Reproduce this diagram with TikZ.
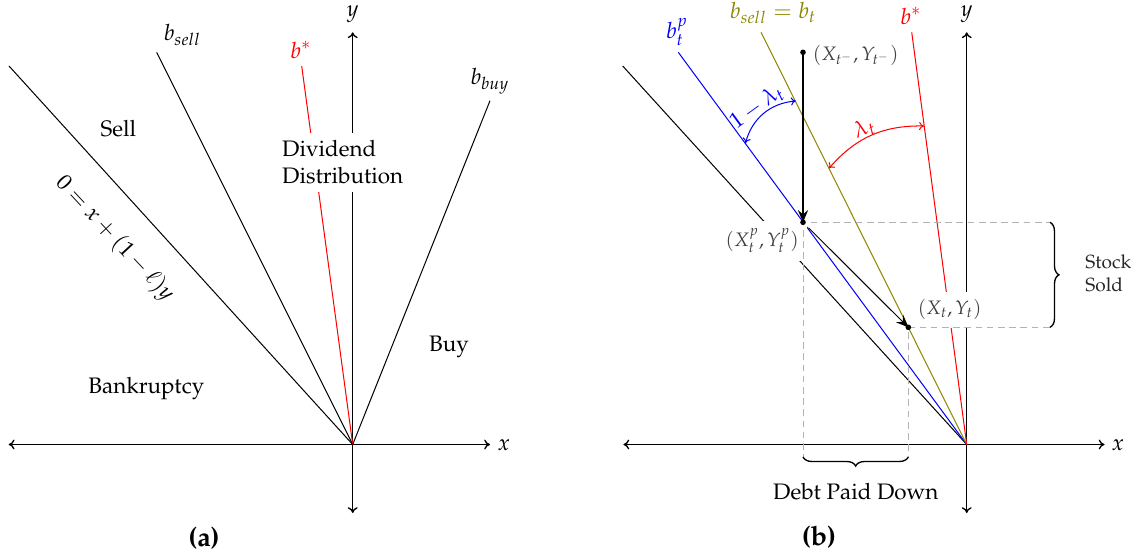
\documentclass[tikz,border=0pt]{standalone}
\usepackage[T1]{fontenc}
\usepackage{mathpazo}
\usetikzlibrary{arrows.meta,decorations.pathreplacing}
\begin{document}
\begin{tikzpicture}[x=0.4462pt,y=-0.4462pt,
  ray/.style={line width=0.45pt},
  axis/.style={line width=0.6pt,{To[length=2.6pt,width=4.4pt]}-{To[length=2.6pt,width=4.4pt]}},
  lab/.style={inner sep=0pt},
  cover/.style={fill=white,inner sep=3.5pt},
  coordlab/.style={text=black!75,font=\fontsize{8.7}{10}\selectfont},
  dotn/.style={circle,fill=black,inner sep=0pt,minimum size=2.5pt},
  halo/.style={circle,inner sep=0pt,minimum size=6.5pt},
  guide/.style={black!30,dashed,line width=0.45pt,dash pattern=on 3pt off 2pt},
  bigarrow/.style={-{Stealth[length=5.5pt,width=4.6pt,inset=2pt]}},
  arcarrow/.style={line width=0.45pt,{To[length=2.2pt,width=3.6pt]}-{To[length=2.2pt,width=3.6pt]}},
  brc/.style={decorate,decoration={brace,amplitude=4pt},line width=0.6pt},
  caption/.style={inner sep=0pt,font=\large\bfseries},
]
\useasboundingbox (0,0) rectangle (1142,556);

% ---------------- panel (a) ----------------
\coordinate (Oa) at (352.7,444.5);
\coordinate (xla) at (8.7,444.5);
\coordinate (xra) at (490,444.5);
\coordinate (yta) at (352.7,32.3);
\coordinate (yba) at (352.7,513);
\coordinate (La) at (9,66);
\coordinate (Sa) at (156.7,52.3);
\coordinate (Ba) at (301.7,66);
\coordinate (Ua) at (490,100.7);

\draw[axis] (xla) -- (xra);
\draw[axis] (yba) -- (yta);
\draw[ray] (Oa) -- (La);
\draw[ray] (Oa) -- (Sa);
\draw[ray,red] (Oa) -- (Ba);
\draw[ray] (Oa) -- (Ua);

\node[lab] (xa) at (504,445) {$x$};
\node[lab] (ya) at (352.7,14) {$y$};
\node[lab] (bsell) at (182.5,35) {$b_{sell}$};
\node[lab,text=red] (bstara) at (301,50) {$b^*$};
\node[lab] (bbuy) at (490,81) {$b_{buy}$};
\node[lab] (sell) at (118.3,128.5) {Sell};
\node[cover,align=left] (div) at (342.7,162.5) {Dividend\\Distribution};
\node[lab] (buy) at (449,346.5) {Buy};
\node[lab] (bank) at (146.3,389) {Bankruptcy};
\node[lab,rotate=-47] (eq) at (114.5,238.5) {$0 = x + (1-\ell)y$};
\node[caption] (capa) at (204,538) {(a)};

% ---------------- panel (b) ----------------
\coordinate (Ob) at (966.7,444.5);
\coordinate (xlb) at (623.4,444.5);
\coordinate (xrb) at (1104.5,444.5);
\coordinate (ytb) at (966.7,32.3);
\coordinate (ybb) at (966.7,513);
\coordinate (Lb) at (622.7,66);
\coordinate (Pb) at (678.3,52.3);
\coordinate (Tb) at (761,32.3);
\coordinate (Rb) at (911.7,32.3);

\coordinate (P0) at (803,52.3);
\coordinate (Pp) at (803,222.3);
\coordinate (Pt) at (908.3,327.3);

\draw[axis] (xlb) -- (xrb);
\draw[axis] (ybb) -- (ytb);
\draw[ray] (Ob) -- (Lb);
\draw[ray,blue] (Ob) -- (Pb);
\draw[ray,olive] (Ob) -- (Tb);
\draw[ray,red] (Ob) -- (Rb);

\node[halo] (pp) at (Pp) {};
\node[halo,minimum size=4pt] (pt) at (Pt) {};

% move arrow (X^p) -> (X_t)
\draw[ray,bigarrow] (pp) -- (Pt);

% covering labels
\node[cover,coordlab,anchor=north east] (lpp) at (807,220.5) {$(X^p_t,Y^p_t)$};
\node[cover,coordlab,anchor=south west] (lpt) at (909.5,328.3) {$(X_t,Y_t)$};
\node[lab,coordlab,anchor=west] (lp0) at (812.5,55) {$(X_{t^-},Y_{t^-})$};

% guides
\coordinate (gpr) at (1050,222.3);
\coordinate (gtr) at (1050,327.3);
\coordinate (gpd) at (803,457);
\coordinate (gtd) at (908.3,457);
\draw[guide] (pp) -- (gpr);
\draw[guide] (Pt) -- (gtr);
\draw[guide] (pp) -- (gpd);
\draw[guide] (pt) -- (gtd);

% braces
\draw[brc] (gpr) -- (gtr);
\draw[brc] (gtd) -- (gpd);
\node[lab,align=left,font=\fontsize{8.5}{10.3}\selectfont,anchor=west,text=black!85] (stock) at (1085,273.5) {Stock\\Sold};
\node[lab] (debt) at (855.8,492) {Debt Paid Down};

% vertical arrow
\draw[line width=0.75pt,bigarrow] (P0) -- (Pp);

% dots
\node[dotn] (d0) at (P0) {};
\node[dotn] (dp) at (Pp) {};
\node[dotn] (dt) at (Pt) {};

% angle arcs
\coordinate (A1) at (745.5,143);
\coordinate (A2) at (795.8,101);
\coordinate (R1) at (829,168.3);
\coordinate (R2) at (924,126);
\draw[arcarrow,blue] (A1) to[bend left=35] (A2);
\draw[arcarrow,red] (R1) to[bend left=25] (R2);
\node[lab,text=blue,rotate=36] (oml) at (757,107) {$1-\lambda_t$};
\node[lab,text=red,rotate=24] (lam) at (864,128.5) {$\lambda_t$};

% labels
\node[lab] (xb) at (1118,445) {$x$};
\node[lab] (yb) at (966.7,14) {$y$};
\node[lab,text=blue] (btp) at (677,32) {$b^p_t$};
\node[lab,text=olive] (bst) at (773,13) {$b_{sell} = b_t$};
\node[lab,text=red] (bstarb) at (911,16) {$b^*$};
\node[caption] (capb) at (819,537) {(b)};
\end{tikzpicture}
\end{document}
